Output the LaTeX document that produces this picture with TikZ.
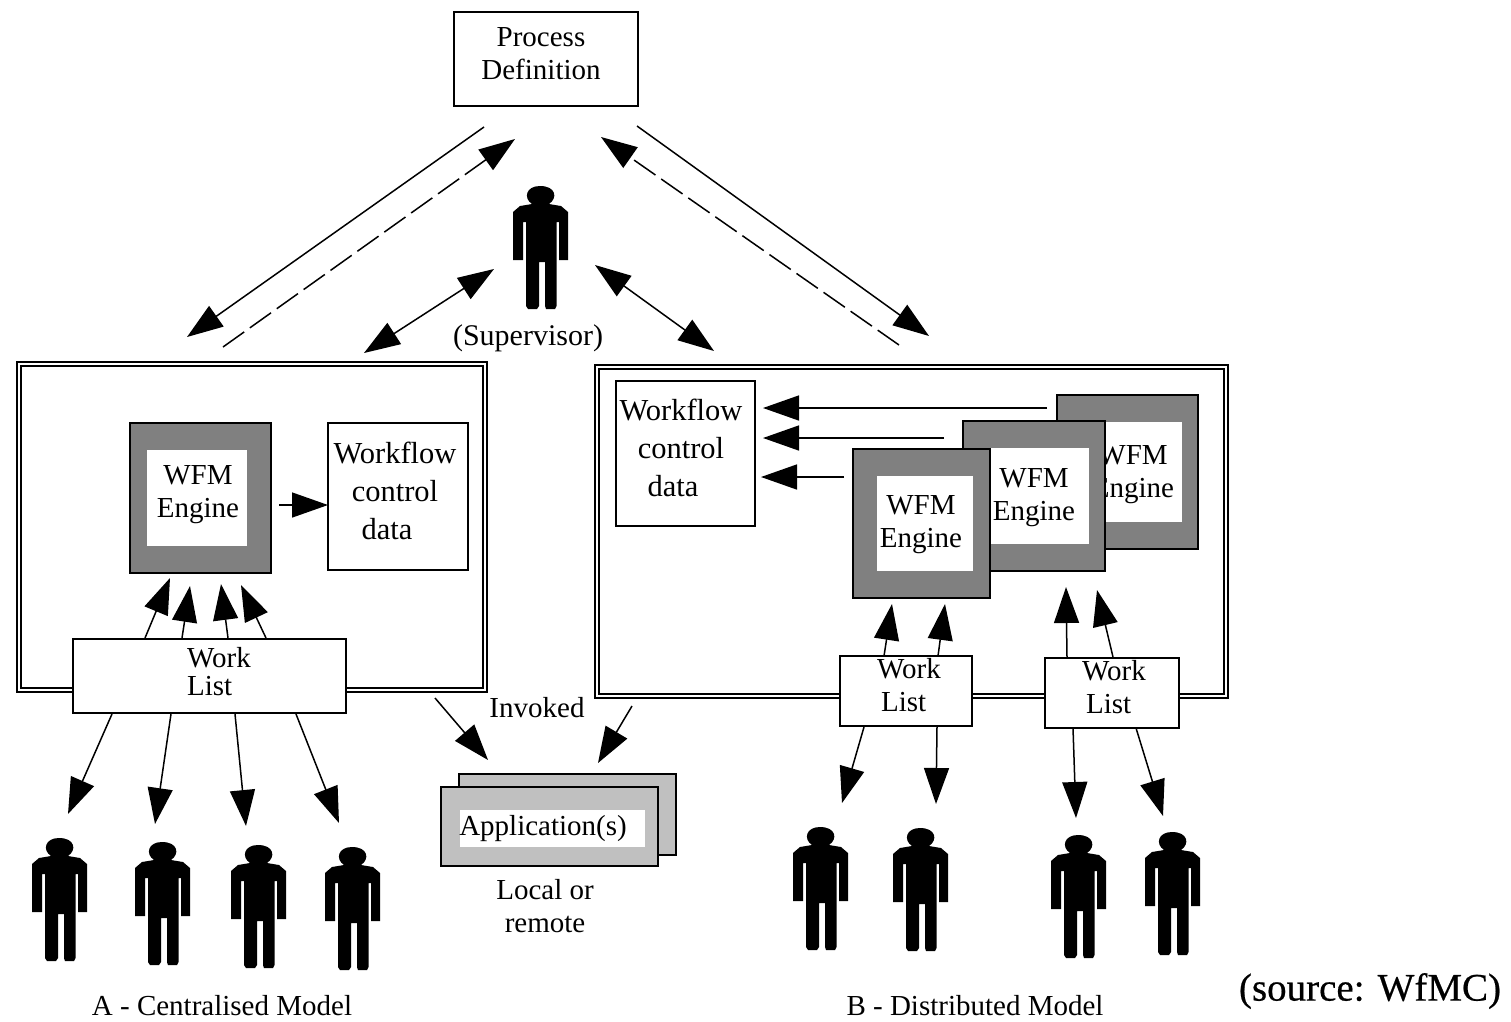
\documentclass[tikz,border=0pt]{standalone}
\usepackage{fontspec}
\setmainfont{Liberation Serif}
\newfontfamily\srcfont[FakeBold=0.5]{Liberation Serif}
\usetikzlibrary{arrows.meta}
\definecolor{eng}{RGB}{128,128,128}
\definecolor{app}{RGB}{192,192,192}
\tikzset{
  box/.style={draw=black,line width=1.5pt,fill=white,inner sep=0pt,outer sep=0pt},
  engine/.style={box,fill=eng,line width=2pt},
  hole/.style={fill=white,inner sep=0pt,outer sep=0pt},
  appbox/.style={box,fill=app},
  lbl/.style={inner sep=0pt,align=center,font=\fontsize{29}{33}\selectfont},
  wfl/.style={lbl,font=\fontsize{30.5}{38}\selectfont},
  frame/.style={draw=black,line width=1.5pt,double=white,double distance=2.5pt,fill=white},
  arr/.style={line width=1.5pt,-{Triangle[length=36pt,width=25pt]}},
  dbl/.style={line width=1.5pt,{Triangle[length=36pt,width=25pt]}-{Triangle[length=36pt,width=25pt]}},
  dsh/.style={arr,dash pattern=on 26pt off 7pt},
  person/.pic={\fill[black,shift={(-541,-186)}]
    (532,204) .. controls (523,198) and (526,186) .. (540,186) .. controls (556,186) and (558,198) .. (549,204)
    -- (561,206) -- (568,212) -- (568,260) -- (559,260) -- (559,222) -- (556.5,222) -- (556.5,306) -- (555,309) -- (546,309) -- (545,306) -- (545,262) -- (539,262) -- (539,306) -- (537,309) -- (528,309) -- (526,306) -- (526,222) -- (523,222) -- (523,260) -- (513,260) -- (513,212) -- (520,206) -- cycle;}
}
\newcommand{\rbox}[6]{\node[#1,minimum width=#5-#3,minimum height=#6-#4] (#2) at ({(#3+#5)/2},{(#4+#6)/2}) {};}
\begin{document}
\begin{tikzpicture}[x=1pt,y=-1pt]
\useasboundingbox[fill=white] (0,0) rectangle (1511,1021);
% frames
\draw[frame] (19,364) rectangle (485,690);
\draw[frame] (597,367) rectangle (1226,696);
% process definition
\rbox{box}{pd}{454}{12}{638}{106}
\node[lbl] (pdt) at (541,54) {Process\\Definition};
% centralised
\rbox{engine}{ea}{130}{423}{271}{573}
\rbox{hole}{eah}{147}{450}{247}{546}
\node[lbl] (eat) at (198,495) {WFM\\Engine};
\rbox{box}{wa}{328}{423}{468}{570}
\node[wfl] (wat) at (395,491) {Workflow\\control\\data\hspace*{16pt}};
% distributed
\rbox{box}{wb}{616}{381}{755}{526}
\node[wfl] (wbt) at (681,448) {Workflow\\control\\data\hspace*{16pt}};
\rbox{engine}{e3}{1057}{395}{1198}{549}
\rbox{hole}{e3h}{1082}{422}{1182}{522}
\node[lbl] (e3t) at (1133,475) {WFM\\Engine};
\rbox{engine}{e2}{963}{421}{1105}{571}
\rbox{hole}{e2h}{990}{448}{1089}{544}
\node[lbl] (e2t) at (1034,498) {WFM\\Engine};
\rbox{engine}{e1}{853}{449}{990}{598}
\rbox{hole}{e1h}{877}{476}{973}{571}
\node[lbl] (e1t) at (921,525) {WFM\\Engine};
% work lists
\rbox{box}{la}{73}{639}{346}{713}
\node[lbl,font=\fontsize{29}{28}\selectfont,align=left] (lat) at (219,672) {Work\\List};
\rbox{box}{lb}{840}{656}{972}{726}
\node[lbl,align=left] (lbt) at (909,685) {Work\\\hspace*{4pt}List};
\rbox{box}{lc}{1045}{658}{1179}{728}
\node[lbl,align=left] (lct) at (1114,687) {Work\\\hspace*{4pt}List};
% application
\rbox{appbox}{ap2}{459}{774}{676}{855}
\rbox{appbox}{ap1}{441}{787}{658}{866}
\rbox{hole}{aph}{460}{810}{645}{847}
\node[lbl] (apt) at (543,829) {Application(s)};
% arrows
\foreach \n/\xa/\ya/\xb/\yb in {
  t1/484/127/187/337, t2/637/126/929/336,
  c1/279/505/328/505,
  u1/145/638/170/578, u2/182/638/190/586, u3/228/638/221/584, u4/266/638/241/585,
  d1/112/714/68/814, d2/171/714/155/824, d3/235/714/246/826, d4/296/714/339/823,
  i1/435/698/488/760, i2/632/706/598/763,
  h1/1047/408/763/408, h2/944/438/763/438, h3/844/477/761/477,
  v1/884/656/892/604, v2/938/656/945/604, v3/1067/657/1066/587, v4/1113/657/1097/590,
  w1/864/727/842/803, w2/937/727/936/804, w3/1073/728/1076/818, w4/1136/728/1163/816}
  {\coordinate (\n s) at (\xa,\ya); \coordinate (\n e) at (\xb,\yb); \draw[arr] (\n s) -- (\n e);}
\coordinate (q1s) at (223,347); \coordinate (q1e) at (515,139); \draw[dsh] (q1s) -- (q1e);
\coordinate (q2s) at (899,345); \coordinate (q2e) at (601,137); \draw[dsh] (q2s) -- (q2e);
\coordinate (s1a) at (494,269); \coordinate (s1b) at (364,353); \draw[dbl] (s1a) -- (s1b);
\coordinate (s2a) at (595,265); \coordinate (s2b) at (714,351); \draw[dbl] (s2a) -- (s2b);
% people
\foreach \n/\x/\y in {sup/541/186, pa/60/838, pb/163/842, pc/259/845, pd2/353/847, pe/821/827, pf/921/828, pg/1079/835, ph/1173/832}
  \pic (\n) at (\x,\y) {person};
% labels
\node[lbl,font=\fontsize{30}{33}\selectfont] (sv) at (528,338) {(Supervisor)};
\node[lbl] (inv) at (537,708) {Invoked};
\node[lbl] (lr) at (545,906) {Local or\\remote};
\node[lbl] (ca) at (222,1006) {A - Centralised Model};
\node[lbl] (cb) at (975,1006) {B - Distributed Model};
\node[lbl,font=\srcfont\fontsize{39}{44}\selectfont] (src) at (1370,991) {(source: WfMC)};
\end{tikzpicture}
\end{document}
